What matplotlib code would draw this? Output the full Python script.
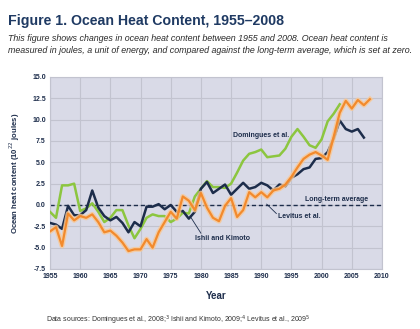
import numpy as np
import matplotlib
matplotlib.use("Agg")
import matplotlib.pyplot as plt

narrow = ["Liberation Sans", "DejaVu Sans"]

# Domingues et al.
dom_years = list(range(1955, 2004))
dom_vals = [-0.8, -1.5, 2.3, 2.3, 2.5, -0.7, -0.4, 0.2, -0.8, -2.0,
            -1.5, -0.6, -0.6, -2.4, -3.9, -2.8, -1.5, -1.1, -1.3, -1.3,
            -2.0, -1.6, -0.9, -1.0, 1.0, 1.9, 2.8, 2.1, 2.1, 2.0,
            2.5, 3.8, 5.2, 6.0, 6.2, 6.5, 5.6, 5.7, 5.8, 6.6,
            8.0, 8.9, 8.0, 7.0, 6.7, 7.7, 9.8, 10.7, 11.8]

# Ishii and Kimoto
ish_years = list(range(1955, 2008))
ish_vals = [-2.1, -2.3, -2.8, -0.1, -1.2, -1.2, -0.6, 1.7, -0.3, -1.3,
            -1.8, -1.4, -2.1, -3.2, -2.0, -2.5, -0.2, -0.2, 0.1, -0.5,
            0.0, -0.8, -0.7, -1.6, -0.8, 1.9, 2.7, 1.4, 1.9, 2.4,
            1.2, 1.9, 2.6, 1.9, 2.1, 2.6, 2.3, 1.7, 2.4, 2.2,
            3.2, 3.6, 4.2, 4.4, 5.4, 5.5, 6.2, 7.8, 9.9, 8.9,
            8.6, 8.9, 7.9]

# Levitus et al.
lev_years = list(range(1955, 2009))
lev_vals = [-3.1, -2.6, -4.8, -1.0, -1.8, -1.3, -1.5, -1.1, -2.0, -3.2,
            -3.0, -3.6, -4.4, -5.4, -5.2, -5.2, -4.0, -5.0, -3.2, -2.0,
            -0.8, -1.6, 1.0, 0.5, -0.6, 1.4, -0.3, -1.5, -1.9, -0.1,
            0.8, -1.4, -0.6, 1.5, 0.9, 1.5, 0.9, 1.7, 1.9, 2.4,
            3.3, 4.4, 5.4, 5.9, 6.2, 5.8, 5.3, 8.0, 10.8, 12.2,
            11.3, 12.3, 11.7, 12.4]

x_ticks = list(range(1955, 2011, 5))
y_ticks = [-7.5, -5.0, -2.5, 0.0, 2.5, 5.0, 7.5, 10.0, 12.5, 15.0]

navy = "#1d2d4b"
fig = plt.figure(figsize=(4.2, 3.29), dpi=100)
ax = fig.add_axes([0.119, 0.1824, 0.7905, 0.5836])
ax.set_facecolor("#d9dae7")

ax.plot(dom_years, dom_vals, color="#8cc63f", lw=1.8, zorder=3)
ax.plot(ish_years, ish_vals, color=navy, lw=1.8, zorder=4)
ax.plot(lev_years, lev_vals, color="#f9c894", lw=3.6, zorder=5, alpha=0.8)
ax.plot(lev_years, lev_vals, color="#f38a2c", lw=1.6, zorder=6)
ax.axhline(0, color=navy, lw=1.0, ls=(0, (3, 2)), zorder=2)

ax.set_xlim(1955, 2010)
ax.set_ylim(-7.5, 15)
ax.set_xticks(x_ticks)
ax.set_yticks(y_ticks)
ax.set_xticklabels([str(t) for t in x_ticks])
ax.set_yticklabels(["%.1f" % t for t in y_ticks])
ax.grid(True, color="#c2c3cf", lw=0.8)
ax.set_axisbelow(True)
for s in ax.spines.values():
    s.set_color("#c2c3cf")
    s.set_linewidth(0.8)
ax.tick_params(length=0, pad=3, labelsize=5.0, labelcolor=navy)
for lab in ax.get_xticklabels() + ax.get_yticklabels():
    lab.set_family(narrow)
    lab.set_fontweight("bold")

ax.set_xlabel("Year", family=narrow, fontweight="bold", fontsize=7,
              color=navy, labelpad=8)
ax.set_ylabel("Ocean heat content (10$^{22}$ joules)", family=narrow,
              fontweight="bold", fontsize=5.6, color=navy, labelpad=7)

lab_kw = dict(family=narrow, fontweight="bold", fontsize=5.0, color=navy, zorder=7)
ax.text(1990.0, 8.1, "Domingues et al.", ha="center", va="center", **lab_kw)
ax.text(2002.5, 0.6, "Long-term average", ha="center", va="center", **lab_kw)
ax.text(1992.7, -1.3, "Levitus et al.", ha="left", va="center", **lab_kw)
ax.text(1983.6, -3.9, "Ishii and Kimoto", ha="center", va="center", **lab_kw)
ax.plot([1990.9, 1992.5], [0.1, -1.0], color=navy, lw=0.6, zorder=7)
ax.plot([1978.2, 1980.0], [-1.3, -3.3], color=navy, lw=0.6, zorder=7)

fig.text(0.019, 0.935, "Figure 1. Ocean Heat Content, 1955\u20132008",
         family=narrow, fontweight="bold", fontsize=10.2, color="#1f3a63",
         ha="left", va="center")
fig.text(0.019, 0.884,
         "This figure shows changes in ocean heat content between 1955 and 2008. Ocean heat content is",
         family=narrow, style="italic", fontsize=6.4,
         color="#2a2a2a", ha="left", va="center")
fig.text(0.019, 0.846,
         "measured in joules, a unit of energy, and compared against the long-term average, which is set at zero.",
         family=narrow, style="italic", fontsize=6.4,
         color="#2a2a2a", ha="left", va="center")
fig.text(0.424, 0.025,
         "Data sources: Domingues et al., 2008;$^{3}$ Ishii and Kimoto, 2009;$^{4}$ Levitus et al., 2009$^{5}$",
         family=narrow, fontsize=5.0,
         color="#333333", ha="center", va="center")

fig.savefig("out.png", dpi=100)
plt.close(fig)
